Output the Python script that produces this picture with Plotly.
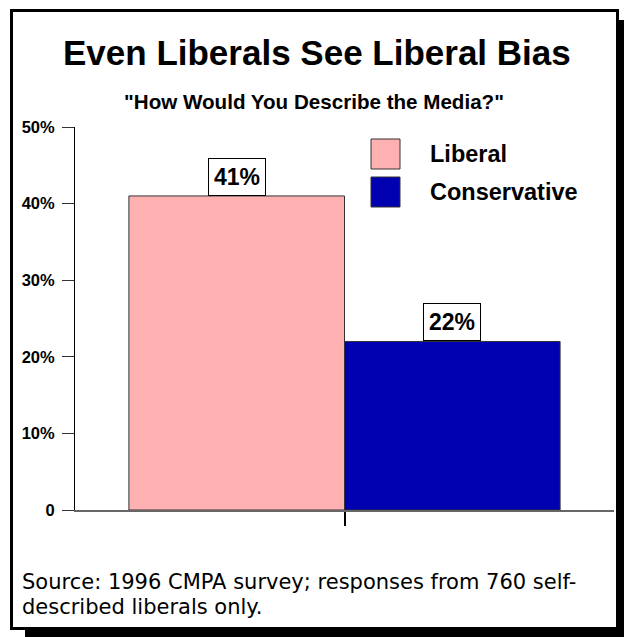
import plotly.graph_objects as go

categories = ["Liberal", "Conservative"]
values = [41, 22]
colors = ["#FFB0B0", "#0000B0"]
ytick_vals = [0, 10, 20, 30, 40, 50]
ytick_text = ["0", "10%", "20%", "30%", "40%", "50%"]
title = "Even Liberals See Liberal Bias"
subtitle = '"How Would You Describe the Media?"'
source_lines = ["Source: 1996 CMPA survey; responses from 760 self-",
                "described liberals only."]

W, H = 624, 637
L, R, T, B = 75, 10, 127, 127
PW, PH = W - L - R, H - T - B

def px(x):
    return (x - L) / PW

def py(y):
    return (H - B - y) / PH

FONT = "Liberation Sans, Arial, sans-serif"

fig = go.Figure()
for cat, v, c in zip(categories, values, colors):
    fig.add_trace(go.Bar(
        x=["Media"], y=[v], name=cat,
        marker=dict(color=c, line=dict(color="#333333", width=1)),
        showlegend=False,
    ))

# value labels in boxes
offsets = [-0.2, 0.2]
for v, o in zip(values, offsets):
    fig.add_annotation(
        x=o, y=v, xref="x", yref="y", text=f"{v}%", showarrow=False,
        yanchor="bottom", xanchor="center",
        font=dict(family=FONT, size=23, color="black", weight="bold"),
        bgcolor="white", bordercolor="black", borderwidth=1, borderpad=5,
    )

shapes = []
# frame and shadow
shapes.append(dict(type="rect", xref="paper", yref="paper",
                   x0=px(619), x1=px(625), y0=py(20), y1=py(638),
                   fillcolor="black", line=dict(width=0), layer="below"))
shapes.append(dict(type="rect", xref="paper", yref="paper",
                   x0=px(25), x1=px(625), y0=py(629), y1=py(638),
                   fillcolor="black", line=dict(width=0), layer="below"))
shapes.append(dict(type="rect", xref="paper", yref="paper",
                   x0=px(11.5), x1=px(617.5), y0=py(10.5), y1=py(628.5),
                   fillcolor="rgba(0,0,0,0)", line=dict(color="black", width=3)))

# legend
leg_y = [154, 192]
for cat, c, ly in zip(categories, colors, leg_y):
    shapes.append(dict(type="rect", xref="paper", yref="paper",
                       x0=px(371), x1=px(400), y0=py(ly - 15), y1=py(ly + 15),
                       fillcolor=c, line=dict(color="#333333", width=1)))
    fig.add_annotation(x=px(428), y=py(ly), xref="paper", yref="paper",
                       text=cat, showarrow=False, xanchor="left", yanchor="middle",
                       font=dict(family=FONT, size=23.5, color="black", weight="bold"))

fig.add_annotation(x=px(317), y=py(53), xref="paper", yref="paper", text=title,
                   showarrow=False, xanchor="center", yanchor="middle",
                   font=dict(family=FONT, size=35, color="black", weight="bold"))
fig.add_annotation(x=px(314), y=py(101), xref="paper", yref="paper", text=subtitle,
                   showarrow=False, xanchor="center", yanchor="middle",
                   font=dict(family=FONT, size=20.6, color="black", weight="bold"))
for line, ly in zip(source_lines, [582, 607]):
    fig.add_annotation(x=px(20), y=py(ly), xref="paper", yref="paper", text=line,
                       showarrow=False, xanchor="left", yanchor="middle", align="left",
                       font=dict(family="DejaVu Sans, sans-serif", size=21, color="black"))

fig.update_layout(
    width=W, height=H,
    margin=dict(l=L, r=R, t=T, b=B, pad=0),
    paper_bgcolor="white", plot_bgcolor="white",
    barmode="group", bargap=0.2, bargroupgap=0,
    shapes=shapes,
    xaxis=dict(type="category", showticklabels=False, ticks="outside", ticklen=14,
               tickcolor="black", tickwidth=2, showline=True, linecolor="#666666",
               linewidth=2, showgrid=False, zeroline=False, fixedrange=True),
    yaxis=dict(range=[0, 50], tickvals=ytick_vals, ticktext=ytick_text,
               ticks="outside", ticklen=12, tickcolor="#333333", tickwidth=1,
               showline=True, linecolor="black", linewidth=1, showgrid=False,
               zeroline=False, ticklabelstandoff=4,
               tickfont=dict(family=FONT, size=16.5, color="black", weight="bold")),
)

fig.write_html("out.html")
